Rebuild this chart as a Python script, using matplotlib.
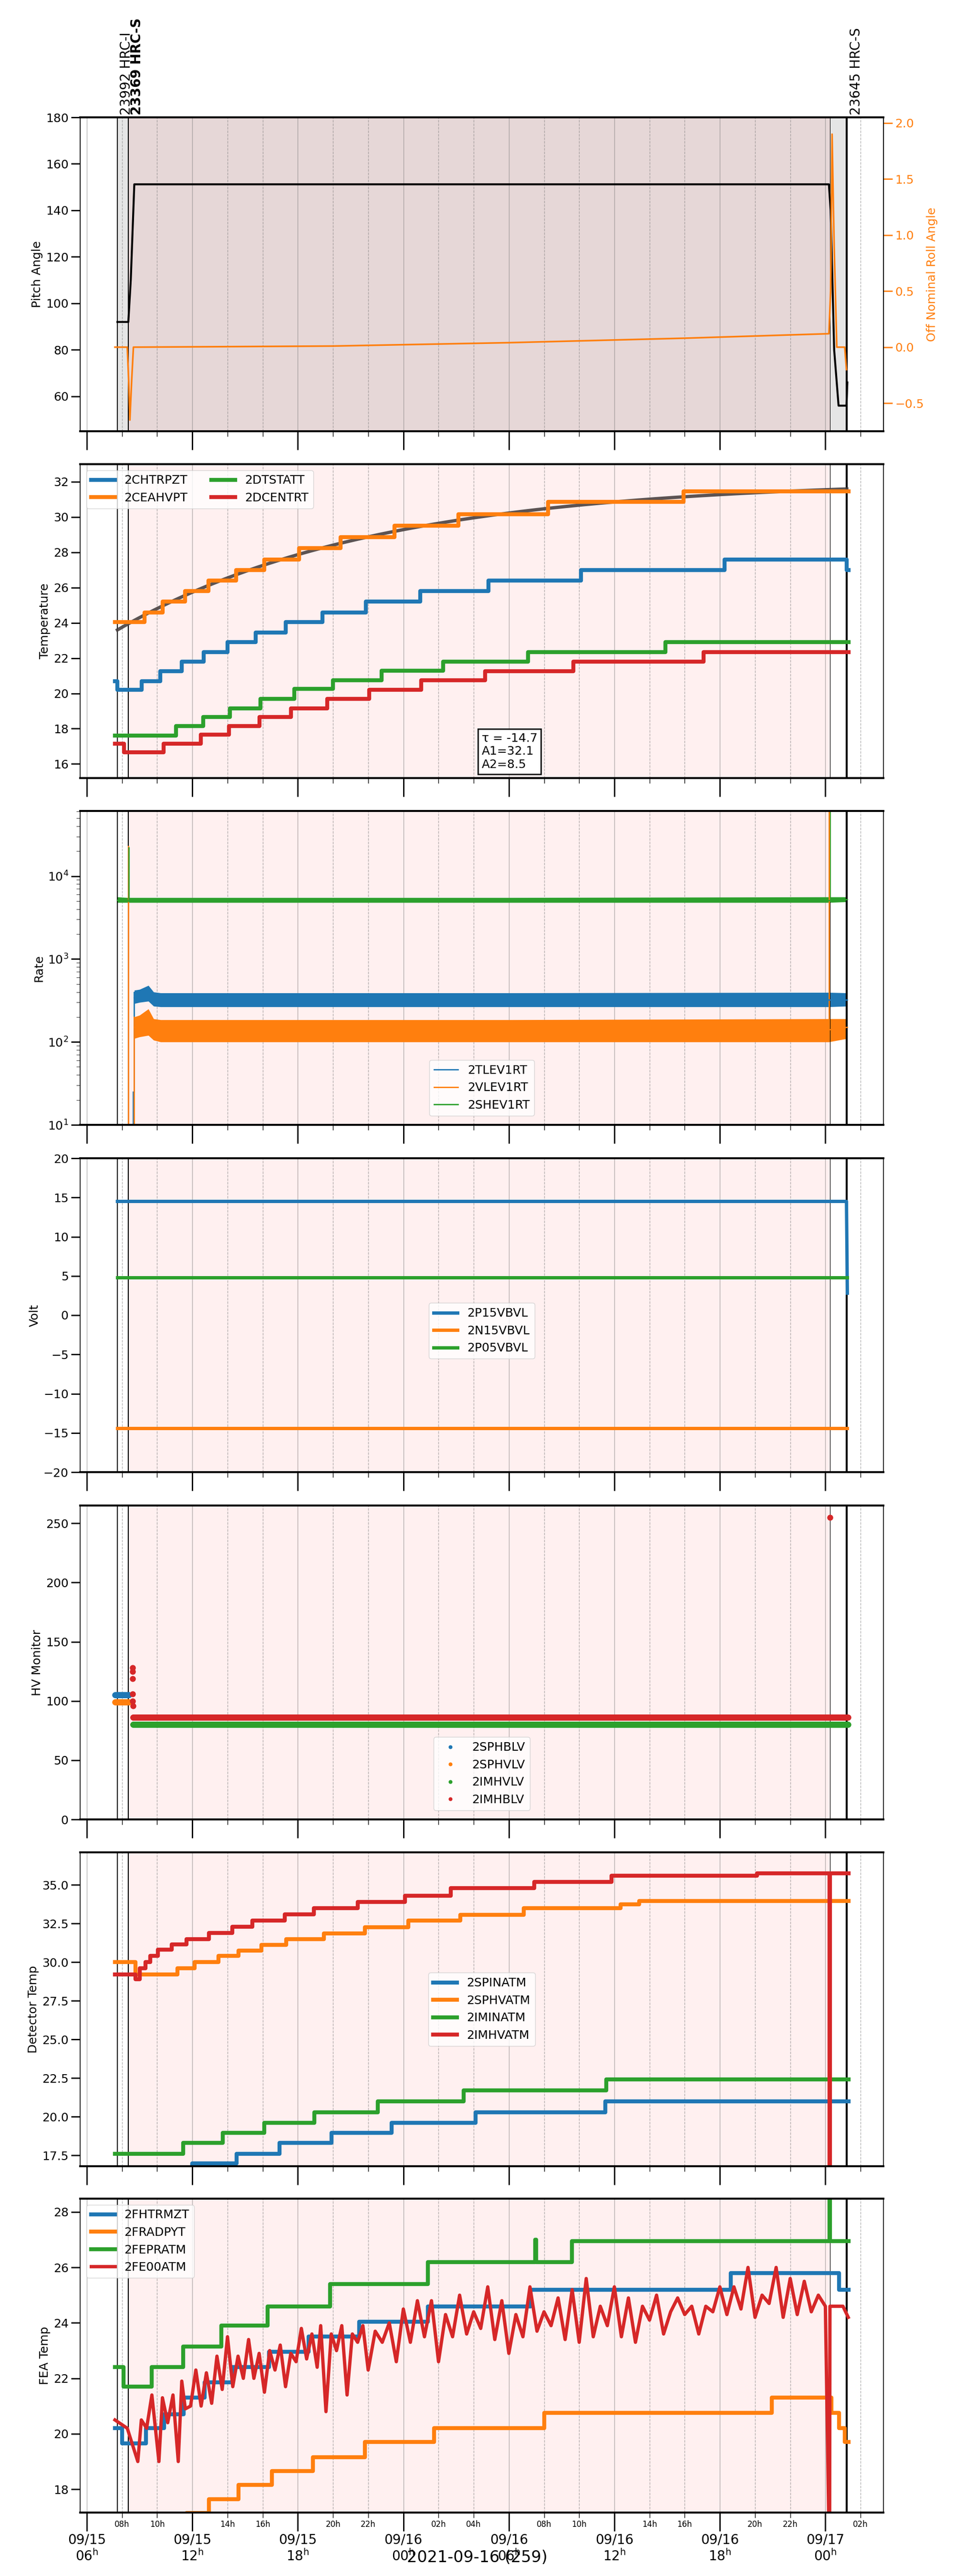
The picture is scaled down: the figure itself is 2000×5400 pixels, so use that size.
"""
HRC housekeeping summary, 2021-09-15 .. 09-17
"""
import numpy as np
import matplotlib.pyplot as plt
from matplotlib.ticker import FixedLocator, NullFormatter

plt.rcParams.update({'font.size': 18})

# time in hours since 2021-09-15 00:00
t_obs1 = 7.74
t_obs2 = 8.36
t_end_pink = 48.25
t_obs3 = 49.22
xlim = (5.62, 51.3)

obs_labels = ['23992 HRC-I', '23369 HRC-S', '23645 HRC-S']
obs_label_x = [8.25, 8.85, 49.75]
obs_label_bold = [False, True, False]

# pitch / roll
pitch_t = [7.74, 8.36, 8.5, 8.7, 48.2, 48.3, 48.5, 48.75, 49.2, 49.25]
pitch_v = [92, 92, 110, 151.2, 151.2, 140, 80, 56, 56, 66]
roll_t = [7.6, 8.3, 8.38, 8.45, 8.55, 8.65, 20.0, 30.0, 40.0, 48.2, 48.3, 48.38, 48.5, 48.65, 49.1, 49.2]
roll_v = [0.0, 0.0, -0.3, -0.65, -0.3, 0.0, 0.01, 0.04, 0.08, 0.12, 0.5, 1.9, 0.9, 0.0, 0.0, -0.2]

# temperatures (step series)
chtrpzt_t = [7.6, 7.74, 9.13, 10.17, 11.39, 12.64, 14.0, 15.6, 17.3, 19.39, 21.86, 24.95, 28.84, 34.09, 42.27, 49.22, 49.32]
chtrpzt_v = [20.7, 20.2, 20.7, 21.25, 21.8, 22.35, 22.9, 23.45, 24.05, 24.6, 25.2, 25.8, 26.4, 27.0, 27.6, 27.0, 27.0]
ceahvpt_t = [7.6, 9.27, 10.31, 11.6, 12.92, 14.48, 16.08, 18.07, 20.43, 23.49, 27.14, 32.22, 39.94, 49.32]
ceahvpt_v = [24.05, 24.6, 25.2, 25.8, 26.4, 27.0, 27.6, 28.25, 28.85, 29.5, 30.15, 30.85, 31.45, 31.45]
dtstatt_t = [7.6, 11.08, 12.61, 14.14, 15.87, 17.79, 20.01, 22.76, 26.27, 31.1, 38.89, 49.32]
dtstatt_v = [17.6, 18.15, 18.65, 19.15, 19.7, 20.25, 20.75, 21.3, 21.8, 22.35, 22.9, 22.9]
dcentrt_t = [7.6, 8.12, 10.38, 12.47, 14.07, 15.81, 17.61, 19.66, 22.06, 25.02, 28.64, 33.68, 41.08, 49.32]
dcentrt_v = [17.15, 16.65, 17.15, 17.65, 18.15, 18.65, 19.15, 19.7, 20.2, 20.75, 21.25, 21.8, 22.35, 22.35]
fit_tau, fit_a1, fit_a2 = -14.7, 32.1, 8.5

# rates: band (low/high) and mid line
tlev_t = [8.7, 9.0, 9.5, 9.8, 10.2, 30.0, 48.2, 49.25]
tlev_lo = [290, 300, 310, 270, 265, 265, 265, 270]
tlev_hi = [420, 430, 480, 400, 390, 390, 395, 390]
tlev_mid = [340, 350, 380, 330, 320, 320, 320, 320]
vlev_t = [8.7, 9.0, 9.5, 9.8, 10.2, 30.0, 48.2, 49.25]
vlev_lo = [110, 115, 120, 105, 100, 100, 100, 110]
vlev_hi = [200, 210, 250, 190, 185, 185, 190, 190]
vlev_mid = [150, 150, 170, 140, 140, 140, 140, 150]
shev_t = [7.74, 8.3, 8.4, 30.0, 48.2, 49.25]
shev_lo = [4800, 4800, 4800, 4800, 4800, 4900]
shev_hi = [5600, 5500, 5500, 5500, 5600, 5600]
shev_mid = [5100, 5050, 5000, 5000, 5050, 5200]
rate_spikes = [('C1', 8.36, 10, 2.3e4), ('C2', 8.38, 5000, 2.2e4), ('C0', 8.64, 10, 25),
               ('C0', 8.68, 25, 400), ('C1', 8.68, 10, 200),
               ('C2', 48.25, 5000, 7e4), ('C1', 48.2, 150, 7e4)]

# voltages
p15_t, p15_v = [7.74, 49.2, 49.25], [14.5, 14.5, 2.8]
n15_t, n15_v = [7.74, 49.25], [-14.4, -14.4]
p05_t, p05_v = [7.74, 49.25], [4.8, 4.8]

# HV monitor
sphblv_t, sphblv_v = [7.6, 8.4], 105
sphvlv_t, sphvlv_v = [7.6, 8.4], 99
imhvlv_t, imhvlv_v = [8.62, 49.3], 80
imhblv_t, imhblv_v = [8.62, 49.3], 86
imhblv_extra_t = [8.6, 8.6, 8.6, 8.6, 8.6, 8.62, 48.25]
imhblv_extra_v = [128, 125, 119, 106, 100, 96, 255]

# detector temps
spinatm_t = [7.6, 12.0, 14.52, 16.95, 19.91, 23.32, 28.11, 35.49, 49.32]
spinatm_v = [16.4, 17.0, 17.6, 18.3, 18.95, 19.6, 20.3, 21.0, 21.0]
sphvatm_t = [7.6, 8.78, 11.15, 12.12, 13.48, 14.62, 15.94, 17.34, 19.49, 21.82, 24.29, 27.24, 30.86, 36.35, 37.4, 49.32]
sphvatm_v = [30.0, 29.2, 29.6, 30.0, 30.4, 30.75, 31.1, 31.5, 31.85, 32.25, 32.7, 33.05, 33.5, 33.75, 33.95, 33.95]
iminatm_t = [7.6, 11.49, 13.72, 16.08, 18.93, 22.55, 27.42, 35.55, 49.32]
iminatm_v = [17.6, 18.3, 18.95, 19.6, 20.3, 21.0, 21.7, 22.4, 22.4]
imhvatm_t = [7.6, 8.78, 9.0, 9.34, 9.62, 10.03, 10.83, 11.67, 12.95, 14.28, 15.42, 17.27, 18.9, 21.4,
             24.08, 26.69, 31.45, 35.83, 44.1, 48.24, 48.26, 49.32]
imhvatm_v = [29.2, 28.9, 29.6, 30.0, 30.4, 30.8, 31.15, 31.5, 31.9, 32.3, 32.7, 33.1, 33.5, 33.9,
             34.3, 34.8, 35.2, 35.6, 35.75, 10.0, 35.75, 35.75]

# FEA temps
fhtrmzt_t = [7.6, 8.0, 9.35, 10.4, 11.5, 12.7, 14.28, 16.36, 18.62, 21.5, 25.4, 31.24, 42.61, 48.77, 49.32]
fhtrmzt_v = [20.2, 19.65, 20.2, 20.7, 21.3, 21.85, 22.4, 22.95, 23.5, 24.05, 24.6, 25.2, 25.8, 25.2, 25.2]
fradpyt_t = [7.6, 11.67, 12.95, 14.62, 16.53, 18.86, 21.82, 25.75, 32.0, 44.95, 48.35, 48.77, 49.1, 49.32]
fradpyt_v = [16.9, 17.15, 17.65, 18.15, 18.65, 19.15, 19.7, 20.2, 20.75, 21.3, 20.75, 20.2, 19.7, 19.7]
feprtm_t = [7.6, 8.1, 9.69, 11.49, 13.65, 16.29, 19.84, 25.4, 31.5, 31.55, 33.6, 48.24, 48.26, 49.32]
feprtm_v = [22.4, 21.7, 22.4, 23.15, 23.9, 24.6, 25.4, 26.2, 27.0, 26.2, 26.95, 30.0, 26.95, 26.95]
fe00atm_t = [7.6, 8.3, 8.9, 9.1, 9.4, 9.7, 9.9, 10.1, 10.3, 10.6, 10.9, 11.2, 11.4, 11.6, 11.9, 12.2,
             12.5, 12.8, 13.1, 13.4, 13.7, 14.0, 14.3, 14.6, 14.9, 15.2, 15.5, 15.8, 16.1, 16.4, 16.7,
             17.0, 17.3, 17.6, 17.9, 18.2, 18.5, 18.8, 19.1, 19.3, 19.6, 19.9, 20.2, 20.5, 20.8, 21.1,
             21.4, 21.7, 22.0, 22.4, 22.8, 23.2, 23.6, 24.0, 24.4, 24.8, 25.2, 25.6, 26.0, 26.4, 26.8,
             27.2, 27.6, 28.0, 28.4, 28.8, 29.2, 29.6, 30.0, 30.4, 30.8, 31.2, 31.6, 32.0, 32.4, 32.8,
             33.2, 33.6, 34.0, 34.4, 34.8, 35.2, 35.6, 36.0, 36.4, 36.8, 37.2, 37.6, 38.0, 38.4, 38.8,
             39.2, 39.6, 40.0, 40.4, 40.8, 41.2, 41.6, 42.0, 42.4, 42.8, 43.2, 43.6, 44.0, 44.4, 44.8,
             45.2, 45.6, 46.0, 46.4, 46.8, 47.2, 47.6, 48.0, 48.24, 48.26, 49.0, 49.3]
fe00atm_v = [20.5, 20.2, 19.0, 20.5, 20.2, 21.4, 20.2, 19.0, 21.3, 20.4, 21.4, 19.0, 21.9, 20.9, 21.0, 22.3,
             21.0, 22.2, 21.1, 22.8, 21.6, 23.5, 21.7, 22.8, 22.0, 23.4, 22.0, 22.9, 21.5, 23.0, 22.3,
             23.2, 21.7, 22.9, 22.6, 23.8, 22.7, 23.6, 22.4, 23.9, 20.8, 23.6, 23.0, 23.9, 21.4, 23.6,
             23.3, 23.9, 22.3, 23.7, 23.3, 24.0, 22.6, 24.5, 23.3, 24.8, 23.5, 24.8, 22.6, 24.3, 23.5,
             25.0, 23.6, 24.4, 23.8, 25.3, 23.4, 24.8, 22.9, 24.3, 23.5, 25.3, 23.7, 24.4, 23.9, 24.9,
             23.4, 25.2, 23.3, 25.6, 23.5, 24.6, 23.9, 25.3, 23.5, 24.9, 23.3, 24.6, 24.1, 25.0, 23.6,
             24.4, 24.9, 24.3, 24.6, 23.6, 24.6, 24.4, 25.3, 24.3, 25.3, 24.5, 26.0, 24.2, 25.0, 24.7,
             26.0, 24.2, 25.6, 24.3, 25.5, 24.4, 25.0, 24.6, 15.0, 24.6, 24.6, 24.2]

major_ticks = [6, 12, 18, 24, 30, 36, 42, 48]
major_labels = ['09/15\n06$^{\\rm h}$', '09/15\n12$^{\\rm h}$', '09/15\n18$^{\\rm h}$', '09/16\n00$^{\\rm h}$',
                '09/16\n06$^{\\rm h}$', '09/16\n12$^{\\rm h}$', '09/16\n18$^{\\rm h}$', '09/17\n00$^{\\rm h}$']
minor_ticks = [8, 10, 14, 16, 20, 22, 26, 28, 32, 34, 38, 40, 44, 46, 50]
minor_labels = ['08h', '10h', '14h', '16h', '20h', '22h', '02h', '04h', '08h', '10h', '14h', '16h', '20h', '22h', '02h']

fig = plt.figure(figsize=(20, 54), dpi=100)
tops = [246, 973, 1700, 2428, 3156, 3883, 4609]
axes = []
for top in tops:
    ax = fig.add_axes([168 / 2000, 1 - (top + 658) / 5400, 1684 / 2000, 658 / 5400])
    axes.append(ax)


def decorate(ax, top_panel=False, bottom=False):
    ax.set_xlim(*xlim)
    if top_panel:
        ax.axvspan(t_obs1, t_obs3, color='gray', alpha=0.2, lw=0, zorder=0)
    ax.axvspan(t_obs2, t_end_pink, color='red', alpha=0.06, lw=0, zorder=0)
    for m in major_ticks:
        ax.axvline(m, color='gray', lw=1, alpha=0.6, zorder=0.5)
    for m in minor_ticks:
        ax.axvline(m, color='gray', lw=1, ls='--', alpha=0.6, zorder=0.5)
    ax.axvline(t_obs1, color='k', lw=1.5)
    ax.axvline(t_obs2, color='k', lw=1.5)
    ax.axvline(t_end_pink, color='k', lw=0.8)
    ax.axvline(t_obs3, color='k', lw=3)
    ax.xaxis.set_major_locator(FixedLocator(major_ticks))
    ax.xaxis.set_minor_locator(FixedLocator(minor_ticks))
    ax.tick_params(axis='x', which='major', length=28, width=2, direction='out')
    ax.tick_params(axis='x', which='minor', length=8, width=1, direction='out')
    ax.tick_params(axis='y', which='major', length=14, width=2, direction='out')
    for s in ax.spines.values():
        s.set_linewidth(1.2)
    ax.spines['top'].set_linewidth(3)
    ax.spines['bottom'].set_linewidth(3)
    if bottom:
        ax.set_xticklabels(major_labels, fontsize=20)
        ax.set_xticks(minor_ticks, minor=True)
        ax.set_xticklabels(minor_labels, minor=True, fontsize=12)
    else:
        ax.set_xticklabels([])
        ax.xaxis.set_minor_formatter(NullFormatter())


# panel 1
ax = axes[0]
decorate(ax, top_panel=True)
ax.plot(pitch_t, pitch_v, color='k', lw=3)
ax.set_ylim(45, 180)
ax.set_ylabel('Pitch Angle')
ax2 = ax.twinx()
ax2.plot(roll_t, roll_v, color='C1', lw=2.5)
ax2.set_ylim(-0.75, 2.05)
ax2.set_ylabel('Off Nominal Roll Angle', color='C1')
ax2.tick_params(axis='y', colors='C1', length=14, width=2)
for lab, x, b in zip(obs_labels, obs_label_x, obs_label_bold):
    ax.text(x, 181, lab, rotation=90, ha='center', va='bottom', fontsize=20,
            fontweight='bold' if b else 'normal')

# panel 2
ax = axes[1]
decorate(ax)
tt = np.linspace(t_obs1, t_obs3, 200)
ax.plot(tt, fit_a1 - fit_a2 * np.exp((tt - t_obs1) / fit_tau), color='#4a4242', lw=5, alpha=0.9)
ax.plot(chtrpzt_t, chtrpzt_v, drawstyle='steps-post', color='C0', lw=6, label='2CHTRPZT')
ax.plot(ceahvpt_t, ceahvpt_v, drawstyle='steps-post', color='C1', lw=6, label='2CEAHVPT')
ax.plot(dtstatt_t, dtstatt_v, drawstyle='steps-post', color='C2', lw=6, label='2DTSTATT')
ax.plot(dcentrt_t, dcentrt_v, drawstyle='steps-post', color='C3', lw=6, label='2DCENTRT')
ax.set_ylim(15.2, 33.0)
ax.set_ylabel('Temperature')
ax.legend(loc='upper left', ncol=2, fontsize=18)
ax.text(0.5, 0.145, 'τ = %.1f\nA1=%.1f\nA2=%.1f' % (fit_tau, fit_a1, fit_a2), transform=ax.transAxes,
        ha='left', va='top', fontsize=18, bbox=dict(boxstyle='square', fc='white', ec='k', lw=2))

# panel 3
ax = axes[2]
decorate(ax)
for c, x, y0, y1 in rate_spikes:
    ax.plot([x, x], [y0, y1], color=c, lw=2)
for t, lo, hi, mid, c, lab in [(tlev_t, tlev_lo, tlev_hi, tlev_mid, 'C0', '2TLEV1RT'),
                               (vlev_t, vlev_lo, vlev_hi, vlev_mid, 'C1', '2VLEV1RT'),
                               (shev_t, shev_lo, shev_hi, shev_mid, 'C2', '2SHEV1RT')]:
    ax.fill_between(t, lo, hi, color=c, lw=0)
    ax.plot(t, mid, color=c, lw=2, label=lab)
ax.set_yscale('log')
ax.set_ylim(10, 6.1e4)
ax.set_ylabel('Rate')
ax.tick_params(axis='y', which='minor', length=6)
ax.legend(loc='lower center', fontsize=18, bbox_to_anchor=(0.5, 0.01))

# panel 4
ax = axes[3]
decorate(ax)
ax.plot(p15_t, p15_v, color='C0', lw=5, label='2P15VBVL')
ax.plot(n15_t, n15_v, color='C1', lw=5, label='2N15VBVL')
ax.plot(p05_t, p05_v, color='C2', lw=5, label='2P05VBVL')
ax.set_ylim(-20, 20)
ax.set_yticks(np.arange(-20, 21, 5))
ax.set_ylabel('Volt')
ax.legend(loc='center', fontsize=18, bbox_to_anchor=(0.5, 0.45))

# panel 5
ax = axes[4]
decorate(ax)
for (t, v, c, lab) in [(sphblv_t, sphblv_v, 'C0', '2SPHBLV'), (sphvlv_t, sphvlv_v, 'C1', '2SPHVLV'),
                       (imhvlv_t, imhvlv_v, 'C2', '2IMHVLV'), (imhblv_t, imhblv_v, 'C3', '2IMHBLV')]:
    ts = np.arange(t[0], t[1], 0.02)
    ax.plot(ts, np.full_like(ts, v), 'o', color=c, ms=8, label=lab)
ax.plot(imhblv_extra_t, imhblv_extra_v, 'o', color='C3', ms=8)
ax.set_ylim(0, 265)
ax.set_ylabel('HV Monitor')
ax.legend(loc='lower center', fontsize=18, bbox_to_anchor=(0.5, 0.01), markerscale=0.6)

# panel 6
ax = axes[5]
decorate(ax)
ax.plot(spinatm_t, spinatm_v, drawstyle='steps-post', color='C0', lw=6, label='2SPINATM')
ax.plot(sphvatm_t, sphvatm_v, drawstyle='steps-post', color='C1', lw=6, label='2SPHVATM')
ax.plot(iminatm_t, iminatm_v, drawstyle='steps-post', color='C2', lw=6, label='2IMINATM')
ax.plot(imhvatm_t, imhvatm_v, drawstyle='steps-post', color='C3', lw=6, label='2IMHVATM')
ax.set_ylim(16.8, 37.1)
ax.set_ylabel('Detector Temp')
ax.legend(loc='center', fontsize=18, bbox_to_anchor=(0.5, 0.5))

# panel 7
ax = axes[6]
decorate(ax, bottom=True)
ax.plot(fhtrmzt_t, fhtrmzt_v, drawstyle='steps-post', color='C0', lw=6, label='2FHTRMZT')
ax.plot(fradpyt_t, fradpyt_v, drawstyle='steps-post', color='C1', lw=6, label='2FRADPYT')
ax.plot(feprtm_t, feprtm_v, drawstyle='steps-post', color='C2', lw=6, label='2FEPRATM')
ax.plot(fe00atm_t, fe00atm_v, color='C3', lw=5, label='2FE00ATM')
ax.set_ylim(17.16, 28.48)
ax.set_ylabel('FEA Temp')
ax.legend(loc='upper left', fontsize=18)
fig.text(0.5, 0.004, '2021-09-16 (259)', ha='center', va='bottom', fontsize=24)

fig.savefig('out.png', dpi=100)
